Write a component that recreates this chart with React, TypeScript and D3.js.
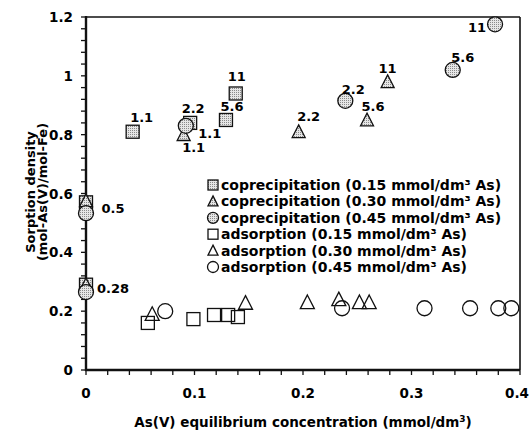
import React from "react";
import * as d3 from "d3";

type P = { x: number; y: number };

const coprec15: P[] = [
  { x: 0, y: 0.29 }, { x: 0, y: 0.57 }, { x: 0.043, y: 0.81 },
  { x: 0.096, y: 0.84 }, { x: 0.129, y: 0.85 }, { x: 0.138, y: 0.94 },
];
const coprec30: P[] = [
  { x: 0, y: 0.29 }, { x: 0, y: 0.575 }, { x: 0.09, y: 0.8 },
  { x: 0.196, y: 0.81 }, { x: 0.259, y: 0.85 }, { x: 0.278, y: 0.98 },
];
const coprec45: P[] = [
  { x: 0, y: 0.265 }, { x: 0, y: 0.533 }, { x: 0.092, y: 0.83 },
  { x: 0.239, y: 0.915 }, { x: 0.338, y: 1.02 }, { x: 0.377, y: 1.175 },
];
const ads15: P[] = [
  { x: 0.057, y: 0.16 }, { x: 0.099, y: 0.173 }, { x: 0.118, y: 0.187 },
  { x: 0.131, y: 0.187 }, { x: 0.14, y: 0.18 },
];
const ads30: P[] = [
  { x: 0.061, y: 0.19 }, { x: 0.147, y: 0.228 }, { x: 0.204, y: 0.23 },
  { x: 0.233, y: 0.24 }, { x: 0.252, y: 0.23 }, { x: 0.261, y: 0.23 },
];
const ads45: P[] = [
  { x: 0.073, y: 0.2 }, { x: 0.236, y: 0.21 }, { x: 0.312, y: 0.21 },
  { x: 0.354, y: 0.21 }, { x: 0.38, y: 0.21 }, { x: 0.392, y: 0.21 },
];

// point labels: [series, index, text]
const pointLabels: [string, number, string][] = [
  ["c15", 2, "1.1"], ["c15", 3, "2.2"], ["c15", 4, "5.6"], ["c15", 5, "11"],
  ["c30", 2, "1.1"], ["c30", 3, "2.2"], ["c30", 4, "5.6"], ["c30", 5, "11"],
  ["c45", 2, "1.1"], ["c45", 3, "2.2"], ["c45", 4, "5.6"], ["c45", 5, "11"],
  ["c45", 1, "0.5"], ["c45", 0, "0.28"],
];
// layout offsets (pixels, label centre relative to marker centre), same order
const labelOffsets: [number, number][] = [
  [9, -15], [3, -15], [6, -14], [1, -17],
  [10, 12], [10, -16], [6, -14], [0, -14],
  [24, 7], [8, -12], [10, -13], [-18, 3],
  [27, -5], [27, -4],
];

const legendItems = [
  { shape: "square", fill: true, text: "coprecipitation (0.15 mmol/dm³ As)" },
  { shape: "triangle", fill: true, text: "coprecipitation (0.30 mmol/dm³ As)" },
  { shape: "circle", fill: true, text: "coprecipitation (0.45 mmol/dm³ As)" },
  { shape: "square", fill: false, text: "adsorption (0.15 mmol/dm³ As)" },
  { shape: "triangle", fill: false, text: "adsorption (0.30 mmol/dm³ As)" },
  { shape: "circle", fill: false, text: "adsorption (0.45 mmol/dm³ As)" },
];

const xTicks = [0, 0.1, 0.2, 0.3, 0.4];
const yTicks = [0, 0.2, 0.4, 0.6, 0.8, 1, 1.2];

const FONT = "'DejaVu Sans', Arial, sans-serif";

function Marker({ shape, cx, cy, size, filled }: { shape: string; cx: number; cy: number; size: number; filled: boolean }) {
  const fill = filled ? "url(#dots)" : "none";
  const common = { fill, stroke: "#111", strokeWidth: 1.3 };
  if (shape === "square") {
    return <rect x={cx - size / 2} y={cy - size / 2} width={size} height={size} {...common} />;
  }
  if (shape === "circle") {
    return <circle cx={cx} cy={cy} r={size / 2 + 0.5} {...common} />;
  }
  const h = size * 0.9;
  const w = size;
  return (
    <path d={`M${cx},${cy - h / 2 - 1} L${cx + w / 2},${cy + h / 2} L${cx - w / 2},${cy + h / 2} Z`} {...common} />
  );
}

export default function App() {
  const W = 530, H = 430;
  const x = d3.scaleLinear().domain([0, 0.4]).range([86, 520]);
  const y = d3.scaleLinear().domain([0, 1.2]).range([370, 17]);
  const xMinor = d3.range(0, 0.4001, 0.02);
  const yMinor = d3.range(0, 1.2001, 0.04);
  const series: Record<string, P[]> = { c15: coprec15, c30: coprec30, c45: coprec45 };

  return (
    <svg width={W} height={H} style={{ position: "absolute", left: 0, top: 0, background: "#fff" }}
      fontFamily={FONT} fontWeight="bold">
      <defs>
        <pattern id="dots" width="2" height="2" patternUnits="userSpaceOnUse">
          <rect width="2" height="2" fill="#e6e6e6" />
          <rect width="1" height="1" fill="#8a8a8a" />
        </pattern>
      </defs>
      <rect width={W} height={H} fill="#fff" />
      {/* frame */}
      <line x1={x(0)} x2={x(0.4)} y1={y(1.2)} y2={y(1.2)} stroke="#111" strokeWidth={1.6} />
      <line x1={x(0.4)} x2={x(0.4)} y1={y(1.2)} y2={y(0)} stroke="#111" strokeWidth={1.6} />
      <line x1={x(0)} x2={x(0)} y1={y(1.2) - 1} y2={y(0) + 1} stroke="#111" strokeWidth={2.4} />
      <line x1={x(0) - 1} x2={x(0.4)} y1={y(0)} y2={y(0)} stroke="#111" strokeWidth={2.4} />
      {/* ticks */}
      {xMinor.map((v, i) => (
        <line key={"xt" + i} x1={x(v)} x2={x(v)} y1={y(0)} y2={y(0) + 5} stroke="#111" strokeWidth={1.3} />
      ))}
      {yMinor.map((v, i) => (
        <line key={"yt" + i} x1={x(0) - 5} x2={x(0)} y1={y(v)} y2={y(v)} stroke="#111" strokeWidth={1.3} />
      ))}
      {xTicks.map((v) => {
        const px = x(v);
        const atEdge = px > W - 14;
        return (
          <text key={"xl" + v} x={atEdge ? W - 1 : px} y={398} textAnchor={atEdge ? "end" : "middle"} fontSize={13.5}>
            {d3.format("")(v)}
          </text>
        );
      })}
      {yTicks.map((v) => (
        <text key={"yl" + v} x={73} y={y(v) + 5} textAnchor="end" fontSize={13.5}>{d3.format("")(v)}</text>
      ))}
      {/* axis titles */}
      <text x={303} y={427} textAnchor="middle" fontSize={13.5}>
        As(V) equilibrium concentration (mmol/dm<tspan dy={-5} fontSize={9}>3</tspan><tspan dy={5}>)</tspan>
      </text>
      <g transform="translate(35,192) rotate(-90)">
        <text x={0} y={0} textAnchor="middle" fontSize={13}>Sorption density</text>
        <text x={0} y={12} textAnchor="middle" fontSize={13}>(mol-As(V)/mol-Fe)</text>
      </g>
      {/* adsorption markers */}
      {ads15.map((d, i) => <Marker key={"a15" + i} shape="square" cx={x(d.x)} cy={y(d.y)} size={13} filled={false} />)}
      {ads30.map((d, i) => <Marker key={"a30" + i} shape="triangle" cx={x(d.x)} cy={y(d.y)} size={14} filled={false} />)}
      {ads45.map((d, i) => <Marker key={"a45" + i} shape="circle" cx={x(d.x)} cy={y(d.y)} size={14} filled={false} />)}
      {/* coprecipitation markers */}
      {coprec15.map((d, i) => <Marker key={"c15" + i} shape="square" cx={x(d.x)} cy={y(d.y)} size={13} filled />)}
      {coprec30.map((d, i) => <Marker key={"c30" + i} shape="triangle" cx={x(d.x)} cy={y(d.y)} size={13} filled />)}
      {coprec45.map((d, i) => <Marker key={"c45" + i} shape="circle" cx={x(d.x)} cy={y(d.y)} size={14} filled />)}
      {/* point labels */}
      {pointLabels.map(([s, idx, t], i) => {
        const p = series[s][idx];
        const [dx, dy] = labelOffsets[i];
        return (
          <text key={"pl" + i} x={x(p.x) + dx} y={y(p.y) + dy + 5} textAnchor="middle" fontSize={13}>{t}</text>
        );
      })}
      {/* legend */}
      {legendItems.map((it, i) => {
        const cy = 185 + i * 16.4;
        return (
          <g key={"lg" + i}>
            <Marker shape={it.shape} cx={213} cy={cy} size={10} filled={it.fill} />
            <text x={221} y={cy + 5} fontSize={14}>{it.text}</text>
          </g>
        );
      })}
    </svg>
  );
}
